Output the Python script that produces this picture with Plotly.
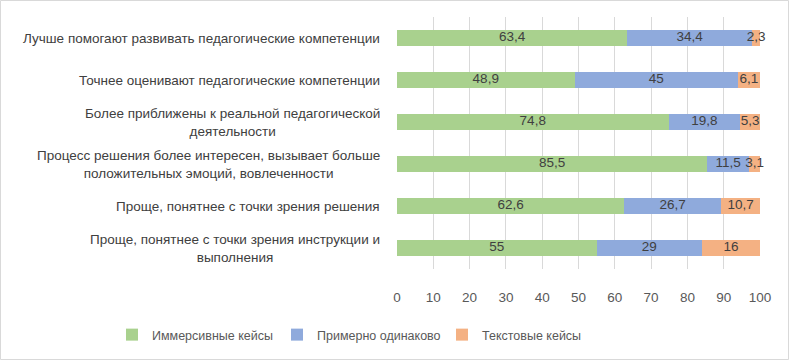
import plotly.graph_objects as go

categories = [
    "Лучше помогают развивать педагогические компетенции",
    "Точнее оценивают педагогические компетенции",
    "Более приближены к реальной педагогической<br>деятельности",
    "Процесс решения более интересен, вызывает больше<br>положительных эмоций, вовлеченности",
    "Проще, понятнее с точки зрения решения",
    "Проще, понятнее с точки зрения инструкции и<br>выполнения",
]
immersive = [63.4, 48.9, 74.8, 85.5, 62.6, 55]
about_same = [34.4, 45, 19.8, 11.5, 26.7, 29]
text_cases = [2.3, 6.1, 5.3, 3.1, 10.7, 16]
series_names = ["Иммерсивные кейсы", "Примерно одинаково", "Текстовые кейсы"]
colors = ["#A9D18E", "#8FAADC", "#F4B183"]
x_ticks = [0, 10, 20, 30, 40, 50, 60, 70, 80, 90, 100]

FONT = "Liberation Sans, Arial, sans-serif"
FS = 13.5
ids = list(range(len(categories)))


def fmt(v):
    return ("%g" % v).replace(".", ",")


fig = go.Figure()
series = [immersive, about_same, text_cases]
base = [0.0] * len(categories)
for name, vals, col in zip(series_names, series, colors):
    fig.add_trace(go.Bar(
        y=ids, x=vals, name=name, orientation="h",
        marker=dict(color=col, line=dict(width=0)),
        hoverinfo="skip",
    ))
    mids = [b + v / 2 for b, v in zip(base, vals)]
    fig.add_trace(go.Scatter(
        x=mids, y=ids, mode="text", text=[fmt(v) for v in vals],
        textposition="middle center", showlegend=False, cliponaxis=False,
        textfont=dict(family=FONT, size=FS, color="#404040"), hoverinfo="skip",
    ))
    base = [b + v for b, v in zip(base, vals)]

for i, c in enumerate(categories):
    fig.add_annotation(x=-0.04, xref="paper", y=i, yref="y", text=c,
                       showarrow=False, xanchor="right", yanchor="middle", align="center",
                       font=dict(family=FONT, size=FS, color="#404040"))

W, H = 789, 360
L, R, T, B = 397, 29, 17, 91
pw = W - L - R
ph = H - T - B
fig.add_shape(type="rect", xref="paper", yref="paper",
              x0=(0.5 - L) / pw, x1=(W - 0.5 - L) / pw,
              y0=-(H - 0.5 - T - ph) / ph, y1=(T - 0.5) / ph + 1,
              line=dict(color="#D9D9D9", width=1), fillcolor="rgba(0,0,0,0)", layer="below")

fig.update_layout(
    width=W, height=H, margin=dict(l=L, r=R, t=T, b=B, autoexpand=False),
    barmode="stack", bargap=0.62,
    plot_bgcolor="white", paper_bgcolor="white",
    font=dict(family=FONT, size=FS, color="#595959"),
    xaxis=dict(range=[0, 100], tickvals=x_ticks, showgrid=True, gridcolor="#D9D9D9",
               gridwidth=1, zeroline=False, showline=False, ticks="",
               ticklabelstandoff=18, tickfont=dict(size=FS, color="#595959")),
    yaxis=dict(range=[len(categories) - 0.5, -0.5], showticklabels=False, showgrid=False,
               zeroline=False, showline=False, ticks=""),
    legend=dict(orientation="h", x=(112 - L) / pw, xanchor="left", y=-(335 - T - ph) / ph,
                yanchor="middle", font=dict(size=12.5, color="#595959"),
                itemwidth=30, entrywidth=120, entrywidthmode="pixels", traceorder="normal"),
    showlegend=True,
)

fig.write_html("out.html", config={"displayModeBar": False},
               post_script="document.body.style.margin='0';")
